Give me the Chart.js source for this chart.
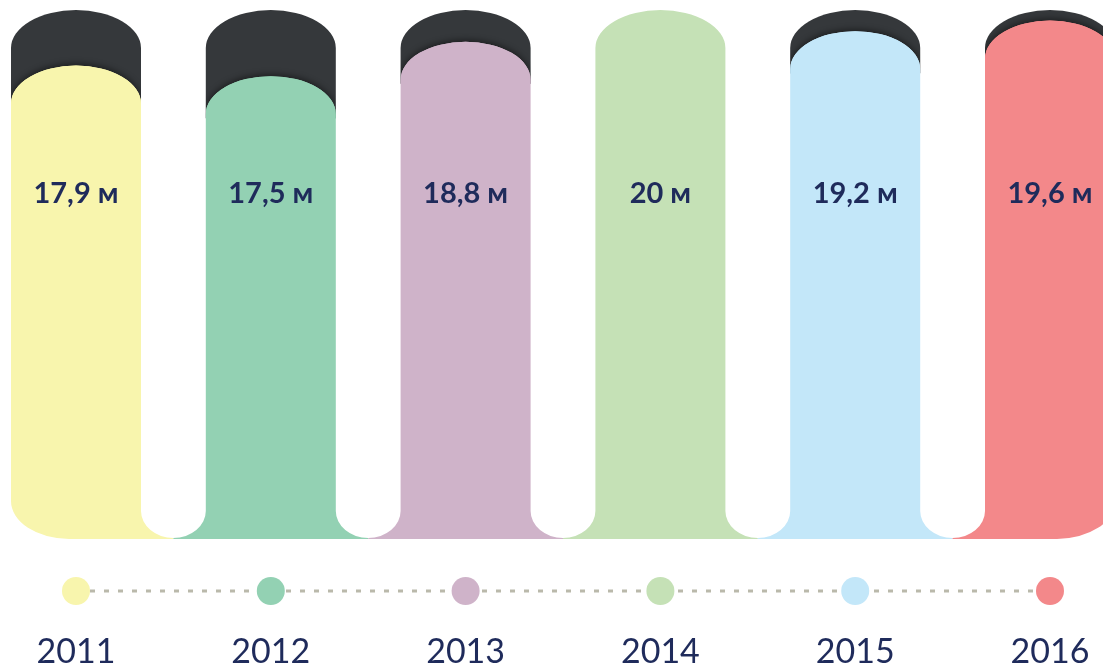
<!DOCTYPE html>
<html>
<head>
<meta charset="utf-8">
<script src="https://cdn.jsdelivr.net/npm/chart.js@4.4.0/dist/chart.umd.min.js"></script>
<style>
  html, body { margin: 0; padding: 0; background: #fff; }
</style>
</head>
<body>
<canvas id="myChart" width="1103" height="668"></canvas>
<script>
// values
const years = ['2011', '2012', '2013', '2014', '2015', '2016'];
const lengths = [17.9, 17.5, 18.8, 20, 19.2, 19.6];   // millions of metres
const unit = 'м';
const colors = ['#f8f5ad', '#93d1b3', '#cfb3c9', '#c5e1b6', '#c3e7f9', '#f3888a'];

const capColor = '#35383b';
const navy = '#1f2b5b';

// shape tuning
const capRy = 38;       // flattening of the rounded tops
const uRy = 28;         // height of the rounded cut between columns
const cornerRx = 58, cornerRy = 38;   // outer bottom corners

function columnPath(ctx, bars, i, top, base) {
    const b = bars[i];
    const half = b.width / 2;
    const xL = b.x - half, xR = b.x + half;
    ctx.beginPath();
    ctx.moveTo(xL, top + capRy);
    ctx.ellipse(b.x, top + capRy, half, capRy, 0, Math.PI, 2 * Math.PI);
    if (i === bars.length - 1) {
        ctx.lineTo(xR, base - cornerRy);
        ctx.ellipse(xR - cornerRx, base - cornerRy, cornerRx, cornerRy, 0, 0, Math.PI / 2);
    } else {
        const n = bars[i + 1];
        const g = (n.x - n.width / 2 - xR) / 2;
        ctx.lineTo(xR, base - uRy);
        ctx.ellipse(xR + g, base - uRy, g, uRy - 1, 0, Math.PI, Math.PI / 2, true);
        ctx.lineTo(xR + g, base);
    }
    if (i === 0) {
        ctx.lineTo(xL + cornerRx, base);
        ctx.ellipse(xL + cornerRx, base - cornerRy, cornerRx, cornerRy, 0, Math.PI / 2, Math.PI);
    } else {
        const p = bars[i - 1];
        const g = (xL - (p.x + p.width / 2)) / 2;
        ctx.lineTo(xL - g, base);
        ctx.lineTo(xL - g, base - 1);
        ctx.ellipse(xL - g, base - uRy, g, uRy - 1, 0, Math.PI / 2, 0, true);
    }
    ctx.closePath();
}

// dark cap: only as deep as needed to sit behind the coloured top
function capPath(ctx, bar, top, bottom) {
    const half = bar.width / 2;
    ctx.beginPath();
    ctx.moveTo(bar.x - half, top + capRy);
    ctx.ellipse(bar.x, top + capRy, half, capRy, 0, Math.PI, 2 * Math.PI);
    ctx.lineTo(bar.x + half, bottom);
    ctx.lineTo(bar.x - half, bottom);
    ctx.closePath();
}

const pillPlugin = {
    id: 'pills',
    beforeDatasetsDraw(chart) {
        const ctx = chart.ctx;
        const y = chart.scales.y;
        const bars = chart.getDatasetMeta(0).data;
        const values = chart.data.datasets[0].data;
        const base = y.getPixelForValue(0);
        const topMax = y.getPixelForValue(y.max);

        bars.forEach((bar, i) => {
            const color = colors[i];
            ctx.save();
            if (values[i] < y.max) {
                const capBottom = Math.min(bar.y + capRy + 4, base - uRy);
                capPath(ctx, bar, topMax, capBottom);
                ctx.fillStyle = capColor;
                ctx.fill();
                // soft shadow of the filled part on the dark cap
                ctx.save();
                capPath(ctx, bar, topMax, capBottom);
                ctx.clip();
                ctx.shadowColor = 'rgba(0,0,0,0.45)';
                ctx.shadowBlur = 6;
                ctx.shadowOffsetY = -2;
                columnPath(ctx, bars, i, bar.y, base);
                ctx.fillStyle = color;
                ctx.fill();
                ctx.restore();
            }
            columnPath(ctx, bars, i, bar.y, base);
            ctx.fillStyle = color;
            ctx.fill();
            ctx.restore();
        });
        return false;
    },
    afterDraw(chart) {
        const ctx = chart.ctx;
        const bars = chart.getDatasetMeta(0).data;
        const values = chart.data.datasets[0].data;
        const base = chart.scales.y.getPixelForValue(0);
        const lineY = base + 52;

        ctx.save();
        // value labels
        ctx.fillStyle = navy;
        ctx.textAlign = 'center';
        ctx.textBaseline = 'alphabetic';
        ctx.font = 'bold 29px Lato, "Noto Sans", sans-serif';
        bars.forEach((bar, i) => {
            const txt = String(values[i]).replace('.', ',') + ' ' + unit;
            ctx.fillText(txt, bar.x, 203);
        });

        // dotted timeline
        ctx.strokeStyle = '#bab9ab';
        ctx.lineWidth = 3;
        ctx.setLineDash([5, 9]);
        ctx.beginPath();
        ctx.moveTo(bars[0].x, lineY);
        ctx.lineTo(bars[bars.length - 1].x, lineY);
        ctx.stroke();
        ctx.setLineDash([]);

        bars.forEach((bar, i) => {
            ctx.beginPath();
            ctx.arc(bar.x, lineY, 14, 0, 2 * Math.PI);
            ctx.fillStyle = colors[i];
            ctx.fill();
        });

        // year labels
        ctx.fillStyle = navy;
        ctx.font = '34px Lato, "Noto Sans", sans-serif';
        chart.data.labels.forEach((lbl, i) => {
            ctx.fillText(lbl, bars[i].x, base + 124);
        });
        ctx.restore();
    }
};

const myChart = new Chart(document.getElementById('myChart'), {
    type: 'bar',
    data: {
        labels: years,
        datasets: [{
            data: lengths,
            backgroundColor: colors,
            barThickness: 130
        }]
    },
    options: {
        responsive: false,
        devicePixelRatio: 1,
        animation: false,
        layout: {
            padding: { left: 76, right: 53, top: 10, bottom: 129 }
        },
        scales: {
            x: { display: false, offset: false },
            y: { display: false, min: 0, max: 20 }
        },
        plugins: {
            legend: { display: false },
            tooltip: { enabled: false }
        }
    },
    plugins: [pillPlugin]
});
</script>
</body>
</html>
